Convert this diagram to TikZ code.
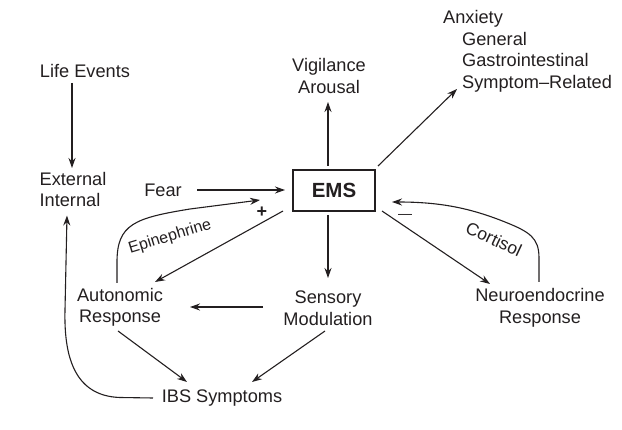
\documentclass[tikz,border=0pt]{standalone}
\usepackage{fontspec}
\setmainfont{Liberation Sans}
\usetikzlibrary{arrows.meta}
\definecolor{ink}{HTML}{231F20}
\begin{document}
\begin{tikzpicture}[x=1pt,y=-1pt,
  lbl/.style={inner sep=1pt,text=ink,font=\fontsize{18.2}{21.5}\selectfont},
  sml/.style={inner sep=1pt,text=ink,font=\fontsize{16}{18}\selectfont},
  arr/.style={draw=ink,line width=1.1pt,-{Stealth[length=10pt,width=7pt]}},
  line/.style={draw=ink,line width=1.1pt}]
\useasboundingbox (0,0) rectangle (622,430);
% nodes
\node[lbl] (life) at (85,71) {Life Events};
\node[lbl,align=left] (ext) at (73,189.5) {External\\Internal};
\node[lbl] (fear) at (163,190) {Fear};
\node[draw=ink,line width=1.1pt,minimum width=82pt,minimum height=41pt,inner sep=0pt,text=ink,
      font=\fontsize{20.5}{24}\selectfont\bfseries] (ems) at (334,190.5) {EMS};
\node[lbl,align=center] (vig) at (329,76) {Vigilance\\Arousal};
\node[lbl,align=left,anchor=west] (anx) at (442,51.5) {Anxiety\\\hspace*{19pt}General\\\hspace*{19pt}Gastrointestinal\\\hspace*{19pt}Symptom–Related};
\node[lbl,align=center] (sens) at (328,308) {Sensory\\Modulation};
\node[lbl,align=center] (neuro) at (540,308) {Neuroendocrine\\Response};
\node[lbl,align=center] (auto) at (120,307.5) {Autonomic\\Response};
\node[lbl] (ibs) at (222,398) {IBS Symptoms};
\node[sml,rotate=17] (epi) at (170,237) {Epinephrine};
\node[sml,font=\fontsize{17.5}{19}\selectfont,rotate=-25] (cort) at (494,239) {Cortisol};
\node[inner sep=0pt,text=ink,font=\fontsize{18}{20}\selectfont\bfseries] (plus) at (262,212) {+};
\node[inner sep=0pt,text=ink,font=\fontsize{14}{16}\selectfont] (minus) at (405,216) {—};
% connectors
\draw[arr] ([shift={(-13,12)}]life.center) -- ([shift={(-1,-21.5)}]ext.center);
\draw[arr] ([shift={(34,0)}]fear.center) -- ([shift={(-49,-0.5)}]ems.center);
\draw[arr] ([shift={(-6,-24.5)}]ems.center) -- ([shift={(-1,26)}]vig.center);
\draw[arr] ([shift={(44,-24.5)}]ems.center) -- ([shift={(15,37.5)}]anx.west);
\draw[arr] ([shift={(-6,24.5)}]ems.center) -- ([shift={(0,-30)}]sens.center);
\draw[arr] ([shift={(48,20.5)}]ems.center) -- ([shift={(-50,-24)}]neuro.center);
\draw[arr] ([shift={(-51,20.5)}]ems.center) -- ([shift={(35,-25.5)}]auto.center);
\draw[arr] ([shift={(-65,-1)}]sens.center) -- ([shift={(70,-0.5)}]auto.center);
\draw[arr] ([shift={(-2,23.5)}]auto.center) -- ([shift={(-35,-16)}]ibs.center);
\draw[arr] ([shift={(-3,23)}]sens.center) -- ([shift={(30,-16)}]ibs.center);
\draw[arr] ([shift={(-69,0)}]ibs.center) -- (120,397.5)
  .. controls (72,396) and (64,352) .. (65,310) -- ([shift={(-6,26)}]ext.center);
\draw[arr] ([shift={(-3,-24.5)}]auto.center) -- (117,262)
  .. controls (117,224) and (135,218) .. (190,209) -- ([shift={(-74,9.5)}]ems.center);
\draw[arr] ([shift={(-1,-26)}]neuro.center) -- (539,258)
  .. controls (539,238) and (530,232) .. (505,222)
  .. controls (470,208) and (440,202) .. ([shift={(58,11.5)}]ems.center);
\end{tikzpicture}
\end{document}
